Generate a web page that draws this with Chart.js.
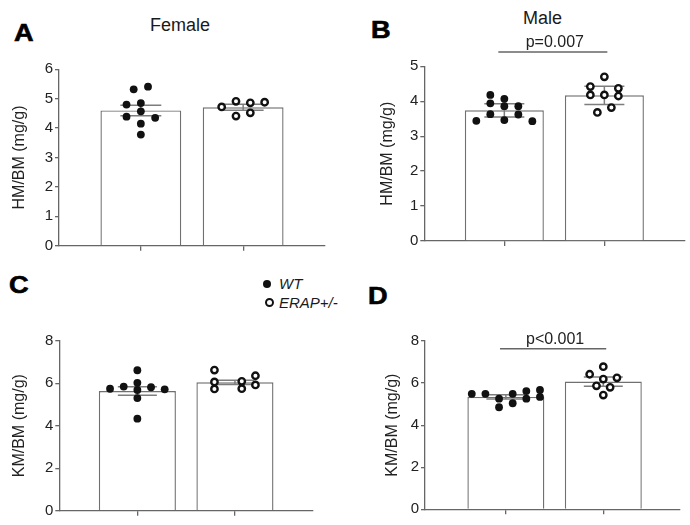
<!DOCTYPE html>
<html><head><meta charset="utf-8">
<script src="https://cdn.jsdelivr.net/npm/chart.js@4.4.0/dist/chart.umd.min.js"></script>
<style>
html,body{margin:0;padding:0;background:#fff;}
body{width:690px;height:525px;position:relative;overflow:hidden;font-family:"Liberation Sans",Arial,sans-serif;color:#1a1a1a;}
canvas{position:absolute;}
.letter{position:absolute;font-weight:bold;font-size:23px;line-height:1;transform:scaleX(1.18);transform-origin:left top;color:#000;-webkit-text-stroke:0.6px #000;}
.ttl{position:absolute;width:120px;text-align:center;font-size:18px;line-height:1;color:#1a1a1a;}
.leg{position:absolute;font-style:italic;font-size:15px;line-height:1;color:#1a1a1a;}
.mk{position:absolute;border-radius:50%;box-sizing:border-box;}
</style></head>
<body>
<div class="letter" style="left:14px;top:22px">A</div>
<div class="letter" style="left:371px;top:18.7px">B</div>
<div class="letter" style="left:9px;top:273.7px">C</div>
<div class="letter" style="left:368px;top:285.3px">D</div>
<div class="ttl" style="left:120px;top:15.5px">Female</div>
<div class="ttl" style="left:482.5px;top:8.8px">Male</div>
<span class="mk" style="left:263px;top:279.5px;width:8px;height:8px;background:#111"></span>
<div class="leg" style="left:279px;top:276px">WT</div>
<span class="mk" style="left:264.5px;top:297.5px;width:9px;height:9px;border:2.5px solid #111;background:#fff"></span>
<div class="leg" style="left:279px;top:295px">ERAP+/-</div>
<canvas id="cA" width="340" height="220" style="left:0;top:40px"></canvas>
<canvas id="cB" width="345" height="230" style="left:345px;top:25px"></canvas>
<canvas id="cC" width="340" height="225" style="left:0;top:300px"></canvas>
<canvas id="cD" width="345" height="225" style="left:345px;top:300px"></canvas>
<script>
// ---------- data ----------
const groups = ['WT', 'ERAP+/-'];

// A: Female, HM/BM (mg/g)
const femaleHmWT   = [5.32, 5.41, 4.80, 4.85, 4.57, 4.39, 4.35, 4.15, 3.78];
const femaleHmERAP = [4.72, 4.91, 4.86, 4.88, 4.41, 4.52];
const femaleHmMean = [4.60, 4.71];
const femaleHmErr  = [0.18, 0.10];

// B: Male, HM/BM (mg/g)
const maleHmWT   = [4.18, 4.07, 3.94, 3.86, 3.86, 3.63, 3.62, 3.46, 3.44, 3.43];
const maleHmERAP = [4.70, 4.42, 4.37, 4.18, 4.18, 4.15, 3.82, 3.68];
const maleHmMean = [3.74, 4.17];
const maleHmErr  = [0.19, 0.26];
const maleHmP    = 'p=0.007';

// C: Female, KM/BM (mg/g)
const femaleKmWT   = [6.61, 6.02, 5.74, 5.84, 5.81, 5.71, 5.68, 5.30, 4.33];
const femaleKmERAP = [6.62, 6.06, 5.73, 6.09, 5.74, 6.35, 5.92];
const femaleKmMean = [5.63, 6.04];
const femaleKmErr  = [0.20, 0.10];

// D: Male, KM/BM (mg/g)
const maleKmWT   = [5.49, 5.49, 5.26, 4.85, 5.49, 5.04, 5.62, 5.26, 5.67, 5.34];
const maleKmERAP = [6.78, 6.42, 6.25, 6.19, 5.87, 5.80, 5.43];
const maleKmMean = [5.34, 6.07];
const maleKmErr  = [0.10, 0.22];
const maleKmP    = 'p<0.001';

// ---------- layout (swarm slots, not data) ----------
const slotsA = [[-1, 1, -2, 0, 0, -2, 2, 0, 0], [-3, -1, 1, 3, -1, 1]];
const slotsB = [[-2, 0, -2, 0, 2, -2, 2, 0, -4, 4], [0, -2, 2, -2, 0, 2, 1, -1]];
const slotsC = [[0, 0, -4, -2, 2, 4, 0, 0, 0], [-3, -3, -3, 1, 1, 3, 3]];
const slotsD = [[-5, -3, -1, -1, 1, 1, 3, 3, 5, 5], [0, -2, 2, 0, -1, 1, 0]];
const SLOT = 0.07;

Chart.defaults.font.family = "'Liberation Sans', Arial, sans-serif";
Chart.defaults.color = '#222';

const errorBars = {
  id: 'errorBars',
  afterDatasetDraw(chart, args, o) {
    if (args.index !== 0) return;
    const {ctx, scales: {x, y}} = chart;
    ctx.save();
    ctx.strokeStyle = '#7d7d7d';
    ctx.lineWidth = 1.5;
    o.means.forEach((m, i) => {
      const cx = x.getPixelForValue(i);
      const l = x.getPixelForValue(i - o.cap), r = x.getPixelForValue(i + o.cap);
      const yt = y.getPixelForValue(m + o.errs[i]);
      const yb = y.getPixelForValue(m - o.errs[i]);
      ctx.beginPath();
      ctx.moveTo(cx, yt); ctx.lineTo(cx, yb);
      ctx.moveTo(l, yt); ctx.lineTo(r, yt);
      ctx.moveTo(l, yb); ctx.lineTo(r, yb);
      ctx.stroke();
    });
    ctx.restore();
  }
};

const bracket = {
  id: 'bracket',
  afterDraw(chart, args, o) {
    if (!o.text) return;
    const {ctx, scales: {x, y}} = chart;
    const x1 = x.getPixelForValue(o.from), x2 = x.getPixelForValue(o.to);
    const yy = y.getPixelForValue(o.level);
    ctx.save();
    ctx.strokeStyle = '#666';
    ctx.lineWidth = 1.5;
    ctx.beginPath(); ctx.moveTo(x1, yy); ctx.lineTo(x2, yy); ctx.stroke();
    ctx.fillStyle = '#222';
    ctx.font = "16px 'Liberation Sans', Arial, sans-serif";
    ctx.textAlign = 'center';
    ctx.textBaseline = 'alphabetic';
    ctx.fillText(o.text, (x1 + x2) / 2 + 2, yy - o.gap);
    ctx.restore();
  }
};

function panel(id, p) {
  const wt = p.wt.map((v, i) => ({x: 0 + p.slots[0][i] * SLOT, y: v}));
  const er = p.erap.map((v, i) => ({x: 1 + p.slots[1][i] * SLOT, y: v}));
  return new Chart(document.getElementById(id), {
    type: 'bar',
    data: {
      datasets: [
        {type: 'bar', label: 'mean', data: p.mean.map((m, i) => ({x: i, y: m})),
         backgroundColor: '#fff', borderColor: '#707070', borderWidth: 1.4,
         borderSkipped: 'start', barPercentage: 0.79, categoryPercentage: 1, order: 3},
        {type: 'scatter', label: groups[0], data: wt, pointRadius: 3.9, pointHoverRadius: 3.9,
         backgroundColor: '#111', borderWidth: 0, order: 1},
        {type: 'scatter', label: groups[1], data: er, pointRadius: 3.2, pointHoverRadius: 3.2,
         backgroundColor: '#fff', borderColor: '#111', borderWidth: 2.4, order: 1}
      ]
    },
    options: {
      responsive: false, animation: false, events: [],
      layout: {padding: {left: 0, top: p.padTop, right: p.padRight, bottom: p.padBottom}},
      scales: {
        x: {type: 'linear', min: p.xMin, max: p.xMax, offset: false,
            afterBuildTicks: s => { s.ticks = [{value: 0}, {value: 1}]; },
            afterFit: s => { s.height = 8; },
            ticks: {display: false},
            grid: {display: true, offset: false, drawOnChartArea: false, drawTicks: true, tickLength: 5, color: '#666', lineWidth: 1.3},
            border: {display: true, color: '#666', width: 1.3}},
        y: {min: 0, max: p.yMax,
            afterFit: s => { s.width = p.yWidth; },
            ticks: {stepSize: p.step, padding: 2, font: {size: 15}, color: '#222'},
            grid: {drawOnChartArea: false, drawTicks: true, tickLength: 4, color: '#666', lineWidth: 1.3},
            border: {display: true, color: '#666', width: 1.3},
            title: {display: true, text: p.title, font: {size: 16}, color: '#222', padding: {top: p.titlePad, bottom: 0}}}
      },
      plugins: {
        legend: {display: false}, tooltip: {enabled: false},
        errorBars: {means: p.mean, errs: p.err, cap: 0.2},
        bracket: {text: p.pText || '', from: -0.06, to: 1.03, level: p.pLevel || 0, gap: 5}
      }
    },
    plugins: [errorBars, bracket]
  });
}

panel('cA', {wt: femaleHmWT, erap: femaleHmERAP, mean: femaleHmMean, err: femaleHmErr, slots: slotsA,
  title: 'HM/BM (mg/g)', yMax: 6, step: 1, yWidth: 59, padTop: 29.3, padRight: 15, padBottom: 6.3,
  xMin: -0.8, xMax: 1.8, titlePad: 9.9});
panel('cB', {wt: maleHmWT, erap: maleHmERAP, mean: maleHmMean, err: maleHmErr, slots: slotsB,
  title: 'HM/BM (mg/g)', yMax: 5, step: 1, yWidth: 79.3, padTop: 41.3, padRight: 5, padBottom: 6,
  xMin: -0.8, xMax: 1.8, titlePad: 33.4, pText: maleHmP, pLevel: 5.41});
panel('cC', {wt: femaleKmWT, erap: femaleKmERAP, mean: femaleKmMean, err: femaleKmErr, slots: slotsC,
  title: 'KM/BM (mg/g)', yMax: 8, step: 2, yWidth: 59.3, padTop: 40.7, padRight: 27, padBottom: 6.3,
  xMin: -0.8, xMax: 1.8, titlePad: 9.9});
panel('cD', {wt: maleKmWT, erap: maleKmERAP, mean: maleKmMean, err: maleKmErr, slots: slotsD,
  title: 'KM/BM (mg/g)', yMax: 8, step: 2, yWidth: 80, padTop: 41, padRight: 10.7, padBottom: 7.7,
  xMin: -0.83, xMax: 1.78, titlePad: 38.1, pText: maleKmP, pLevel: 7.63});
</script>
</body></html>
